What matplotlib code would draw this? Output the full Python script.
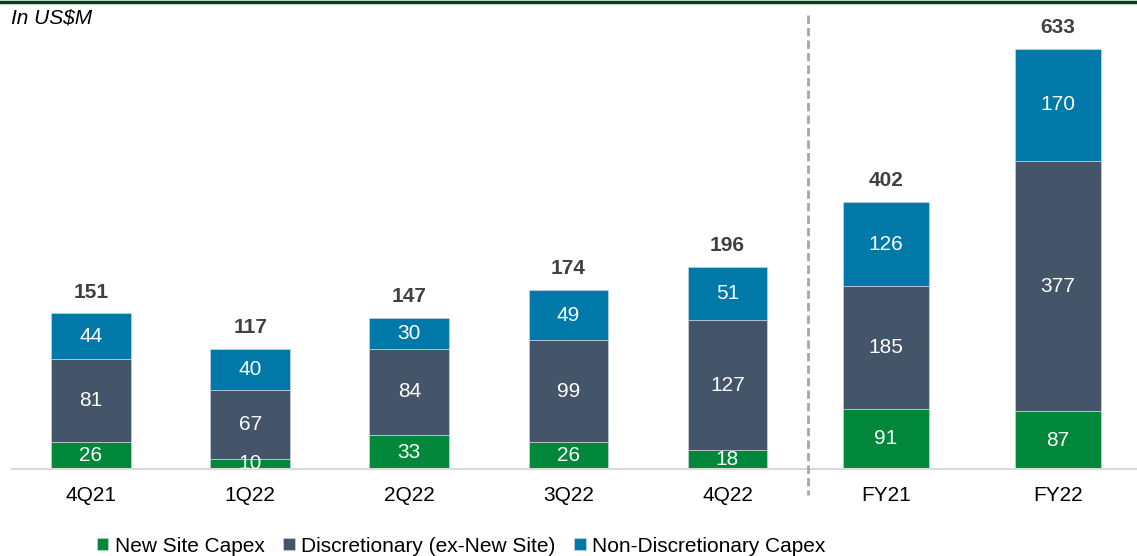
import matplotlib.pyplot as plt
from matplotlib.lines import Line2D

plt.rcParams['font.family'] = ['Liberation Sans', 'DejaVu Sans']

# quarterly capex, US$M
quarters = ['4Q21', '1Q22', '2Q22', '3Q22', '4Q22']
q_new_site = [26, 10, 33, 26, 18]
q_discretionary = [81, 67, 84, 99, 127]
q_non_disc = [44, 40, 30, 49, 51]
q_total = [151, 117, 147, 174, 196]

# full year capex, US$M
years = ['FY21', 'FY22']
fy_new_site = [91, 87]
fy_discretionary = [185, 377]
fy_non_disc = [126, 170]
fy_total = [402, 633]

series_names = ['New Site Capex', 'Discretionary (ex-New Site)', 'Non-Discretionary Capex']
colors = ['#00873a', '#445469', '#0078a8']


def draw_stack(ax, labels, segments, totals):
    x = list(range(len(labels)))
    base = [0] * len(labels)
    containers = []
    for vals, color in zip(segments, colors):
        bars = ax.bar(x, vals, 0.5, bottom=base, color=color,
                      edgecolor='#c8d4e0', linewidth=0.5)
        containers.append(bars)
        for xi, b, v in zip(x, base, vals):
            ax.text(xi, b + v / 2, str(v), ha='center', va='center',
                    color='white', fontsize=15, clip_on=True)
        base = [b + v for b, v in zip(base, vals)]
    for xi, top, t in zip(x, base, totals):
        ax.annotate(str(t), (xi, top), xytext=(0, 11.5), textcoords='offset points',
                    ha='center', va='baseline', fontsize=15, fontweight='bold',
                    color='#404040')
    ax.set_xticks(x)
    ax.set_xticklabels(labels)
    ax.tick_params(axis='x', length=0, pad=12, labelsize=15, colors='black')
    ax.set_yticks([])
    for side in ['top', 'left', 'right']:
        ax.spines[side].set_visible(False)
    ax.spines['bottom'].set_color('#d9d9d9')
    ax.spines['bottom'].set_linewidth(1.5)
    ax.patch.set_alpha(0)
    return containers


fig = plt.figure(figsize=(11.37, 5.56), dpi=100)
bottom = 87 / 556
height = 449 / 556

ax_q = fig.add_axes([11.5 / 1137, bottom, (807 - 11.5) / 1137, height])
ax_f = fig.add_axes([808 / 1137, bottom, (1137 - 808) / 1137, height])

handles = draw_stack(ax_q, quarters, [q_new_site, q_discretionary, q_non_disc], q_total)
draw_stack(ax_f, years, [fy_new_site, fy_discretionary, fy_non_disc], fy_total)

ax_q.set_xlim(-0.5, 4.5)
ax_q.set_ylim(0, 436)
ax_f.set_xlim(-78 / 172, 1 + 79 / 172)
ax_f.set_ylim(0, 677)

# separator between quarters and full years
fig.add_artist(Line2D([808 / 1137] * 2, [1 - 15 / 556, 1 - 495 / 556],
                      transform=fig.transFigure, color='#a6a6a6', lw=2,
                      ls=(0, (3, 1.5))))
# header rule
fig.add_artist(Line2D([0, 1], [1 - 1.5 / 556] * 2, transform=fig.transFigure,
                      color='#0a3d1f', lw=2.5))

fig.text(11 / 1137, 1 - 18 / 556, 'In US$M', style='italic', fontsize=15,
         va='center', ha='left')

fig.legend(handles, series_names, loc='center',
           bbox_to_anchor=(461 / 1137, 1 - 546 / 556), ncol=3, frameon=False,
           fontsize=15, handlelength=0.55, handleheight=0.55,
           handletextpad=0.3, columnspacing=0.9, borderaxespad=0)

fig.savefig('out.png', dpi=100)
